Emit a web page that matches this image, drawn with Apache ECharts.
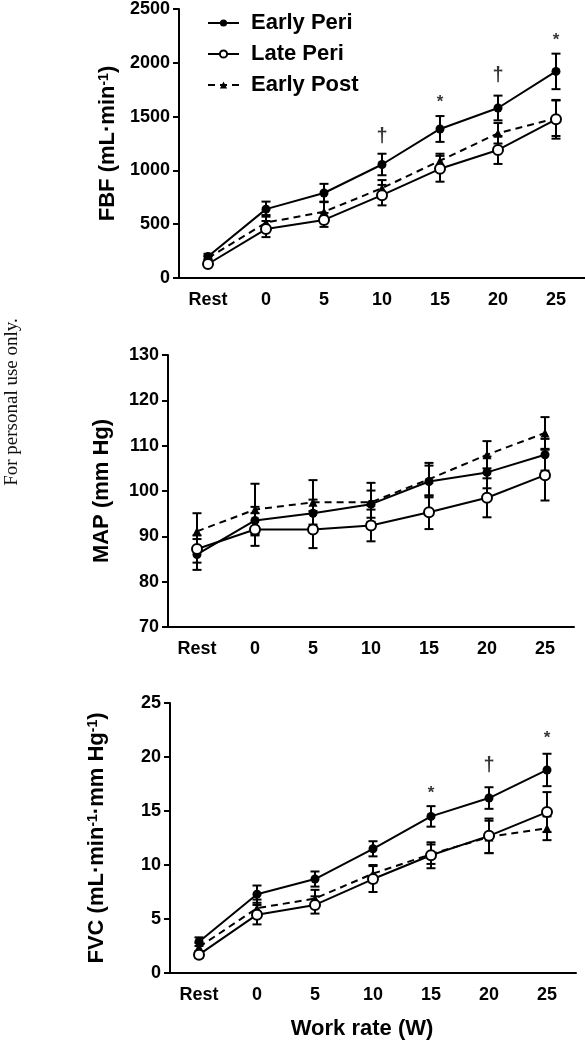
<!DOCTYPE html>
<html>
<head>
<meta charset="utf-8">
<script src="https://cdn.jsdelivr.net/npm/echarts@6/dist/echarts.min.js"></script>
<style>
  html, body { margin: 0; padding: 0; background: #fff; }
  #chart { width: 585px; height: 1050px; }
</style>
</head>
<body>
<div id="chart"></div>
<script>
// ---------------- DATA ----------------
const categories = ['Rest', '0', '5', '10', '15', '20', '25'];
const seriesNames = ['Early Peri', 'Late Peri', 'Early Post'];

// FBF (mL·min-1)
const fbfEarlyPeri    = [200, 640, 790, 1055, 1385, 1580, 1920];
const fbfEarlyPeriSem = [25, 70, 85, 100, 120, 115, 165];
const fbfLatePeri     = [130, 455, 540, 770, 1015, 1190, 1475];
const fbfLatePeriSem  = [20, 75, 65, 95, 120, 130, 180];
const fbfEarlyPost    = [185, 515, 615, 835, 1090, 1345, 1485];
const fbfEarlyPostSem = [20, 70, 95, 75, 65, 95, 165];
const fbfSigns = [['10', 1314, '†'], ['15', 1671, '*'], ['20', 1879, '†'], ['25', 2244, '*']];

// MAP (mm Hg)
const mapEarlyPeri    = [86.0, 93.5, 95.1, 97.1, 102.1, 104.1, 108.0];
const mapEarlyPeriSem = [3.4, 3.0, 3.0, 3.0, 3.5, 3.5, 3.5];
const mapLatePeri     = [87.2, 91.5, 91.5, 92.4, 95.3, 98.5, 103.5];
const mapLatePeriSem  = [3.0, 3.6, 4.1, 3.5, 3.7, 4.3, 5.6];
const mapEarlyPost    = [91.1, 95.9, 97.5, 97.5, 102.6, 108.0, 112.8];
const mapEarlyPostSem = [4.0, 5.7, 4.9, 4.3, 3.6, 3.0, 3.5];

// FVC (mL·min-1·mm Hg-1)
const fvcEarlyPeri    = [2.9, 7.3, 8.7, 11.5, 14.5, 16.2, 18.8];
const fvcEarlyPeriSem = [0.4, 0.8, 0.7, 0.7, 0.95, 1.0, 1.5];
const fvcLatePeri     = [1.7, 5.4, 6.3, 8.7, 10.9, 12.7, 14.9];
const fvcLatePeriSem  = [0.3, 0.9, 0.8, 1.2, 1.2, 1.6, 1.85];
const fvcEarlyPost    = [2.4, 6.0, 6.9, 9.2, 11.0, 12.6, 13.4];
const fvcEarlyPostSem = [0.4, 0.8, 0.8, 0.8, 0.9, 1.5, 1.1];
const fvcSigns = [['15', 17.0, '*'], ['20', 19.2, '†'], ['25', 22.1, '*']];

const fbfTicks = { min: 0, max: 2500, interval: 500 };
const mapTicks = { min: 70, max: 130, interval: 10 };
const fvcTicks = { min: 0, max: 25, interval: 5 };

// ---------------- STYLE ----------------
const FONT = '"Liberation Sans", Arial, Helvetica, sans-serif';
const INK = '#000';

const grids = [
  { left: 179, top: 9,   width: 406, height: 269 },
  { left: 168, top: 355, width: 406, height: 272 },
  { left: 170, top: 703, width: 406, height: 270 }
];

function xAxis(i, name) {
  const ax = {
    type: 'category', gridIndex: i, data: categories, boundaryGap: true,
    axisLine: { lineStyle: { color: INK, width: 2 } },
    axisTick: { alignWithLabel: true, length: 6, lineStyle: { color: INK, width: 2 } },
    axisLabel: { color: INK, fontFamily: FONT, fontWeight: 'bold', fontSize: 18, margin: 13 },
    splitLine: { show: false }
  };
  if (name) {
    ax.name = name; ax.nameLocation = 'middle'; ax.nameGap = 45;
    ax.nameTextStyle = { color: INK, fontFamily: FONT, fontWeight: 'bold', fontSize: 22, padding: [0, 22, 0, 0] };
  }
  return ax;
}
function yAxis(i, ticks, name, gap) {
  return {
    type: 'value', gridIndex: i, min: ticks.min, max: ticks.max, interval: ticks.interval,
    axisLine: { show: true, lineStyle: { color: INK, width: 2 } },
    axisTick: { show: true, length: 6, lineStyle: { color: INK, width: 2 } },
    axisLabel: {
      color: INK, fontFamily: FONT, fontWeight: 'bold', fontSize: 18, margin: 9,
      formatter: function (v) { return String(v); }
    },
    splitLine: { show: false },
    name: name, nameLocation: 'middle', nameRotate: 90, nameGap: gap,
    nameTextStyle: {
      color: INK, fontFamily: FONT, fontWeight: 'bold', fontSize: 22,
      rich: { sup: { fontFamily: FONT, fontWeight: 'bold', fontSize: 14, color: INK, verticalAlign: 'top' } }
    }
  };
}

const styles = [
  { symbol: 'circle', symbolSize: 9, itemStyle: { color: INK }, lineStyle: { color: INK, width: 2, type: 'solid' } },
  { symbol: 'circle', symbolSize: 10, itemStyle: { color: '#fff', borderColor: INK, borderWidth: 2 }, lineStyle: { color: INK, width: 2, type: 'solid' } },
  { symbol: 'triangle', symbolSize: 9, itemStyle: { color: INK }, lineStyle: { color: INK, width: 2, type: [7, 5] } }
];

function lineSeries(gi, k, values) {
  return Object.assign({
    type: 'line', name: seriesNames[k], xAxisIndex: gi, yAxisIndex: gi,
    data: values, z: 5 + (k === 1 ? 2 : 0), showSymbol: true
  }, JSON.parse(JSON.stringify(styles[k])));
}
function errSeries(gi, values, sem) {
  return {
    type: 'custom', xAxisIndex: gi, yAxisIndex: gi, z: 3, silent: true,
    encode: { x: 0, y: [1, 2] },
    data: values.map((v, i) => [i, v - sem[i], v + sem[i]]),
    renderItem: function (params, api) {
      const lo = api.coord([api.value(0), api.value(1)]);
      const hi = api.coord([api.value(0), api.value(2)]);
      const w = 4.5;
      const st = { stroke: INK, lineWidth: 2 };
      return {
        type: 'group', children: [
          { type: 'line', shape: { x1: lo[0], y1: lo[1], x2: hi[0], y2: hi[1] }, style: st },
          { type: 'line', shape: { x1: lo[0] - w, y1: lo[1], x2: lo[0] + w, y2: lo[1] }, style: st },
          { type: 'line', shape: { x1: hi[0] - w, y1: hi[1], x2: hi[0] + w, y2: hi[1] }, style: st }
        ]
      };
    }
  };
}
function signSeries(gi, signs) {
  return {
    type: 'scatter', xAxisIndex: gi, yAxisIndex: gi, symbolSize: 1, z: 8, silent: true,
    itemStyle: { color: 'rgba(0,0,0,0)' },
    data: signs.map(s => ({
      value: [s[0], s[1]],
      label: {
        show: true, position: 'inside', formatter: s[2], color: INK, fontFamily: FONT,
        fontWeight: 'bold', fontSize: s[2] === '*' ? 17 : 20,
        offset: s[2] === '*' ? [0, 4] : [0, 0]
      }
    }))
  };
}

const panels = [
  [fbfEarlyPeri, fbfEarlyPeriSem, fbfLatePeri, fbfLatePeriSem, fbfEarlyPost, fbfEarlyPostSem],
  [mapEarlyPeri, mapEarlyPeriSem, mapLatePeri, mapLatePeriSem, mapEarlyPost, mapEarlyPostSem],
  [fvcEarlyPeri, fvcEarlyPeriSem, fvcLatePeri, fvcLatePeriSem, fvcEarlyPost, fvcEarlyPostSem]
];

const series = [];
panels.forEach((p, gi) => {
  series.push(errSeries(gi, p[0], p[1]));
  series.push(errSeries(gi, p[4], p[5]));
  series.push(errSeries(gi, p[2], p[3]));
  series.push(lineSeries(gi, 0, p[0]));
  series.push(lineSeries(gi, 2, p[4]));
  series.push(lineSeries(gi, 1, p[2]));
});
series.push(signSeries(0, fbfSigns));
series.push(signSeries(2, fvcSigns));

const chart = echarts.init(document.getElementById('chart'), null, { renderer: 'canvas' });
chart.setOption({
  animation: false,
  backgroundColor: '#fff',
  grid: grids,
  xAxis: [xAxis(0), xAxis(1), xAxis(2, 'Work rate (W)')],
  yAxis: [
    yAxis(0, fbfTicks, 'FBF (mL·min{sup|-1})', 60),
    yAxis(1, mapTicks, 'MAP (mm Hg)', 55),
    yAxis(2, fvcTicks, 'FVC (mL·min{sup|-1}·mm Hg{sup|-1})', 62)
  ],
  legend: {
    data: seriesNames, orient: 'vertical', left: 202, top: 7,
    itemWidth: 31, itemHeight: 9, itemGap: 9,
    textStyle: { color: INK, fontFamily: FONT, fontWeight: 'bold', fontSize: 22, padding: [0, 0, 0, 7] }
  },
  graphic: [{
    type: 'text', x: 12, y: 402, rotation: Math.PI / 2,
    style: {
      text: 'For personal use only.', fill: '#111',
      font: '19px "Liberation Serif", "Times New Roman", serif',
      textAlign: 'center', textVerticalAlign: 'middle'
    }
  }],
  series: series
});
</script>
</body>
</html>
